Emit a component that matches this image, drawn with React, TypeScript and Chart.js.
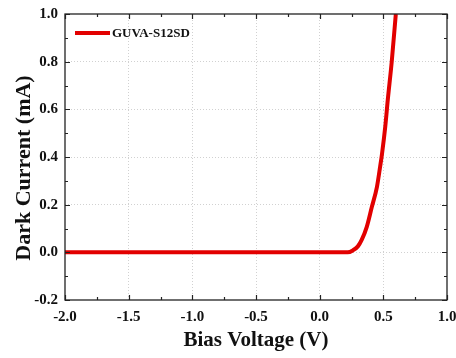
import React, { useEffect, useRef } from "react";
import { Chart, registerables } from "chart.js";

Chart.register(...registerables);

const voltage = [-2, 0.0, 0.22, 0.26, 0.30, 0.33, 0.37, 0.41, 0.45, 0.475, 0.49, 0.515, 0.535, 0.566, 0.598];
const current = [0, 0, 0, 0.008, 0.025, 0.052, 0.107, 0.191, 0.275, 0.36, 0.415, 0.527, 0.64, 0.80, 1.0];
const seriesName = "GUVA-S12SD";
const xTitle = "Bias Voltage (V)";
const yTitle = "Dark Current (mA)";
const xMin = -2, xMax = 1, xStep = 0.5;
const yMin = -0.2, yMax = 1.0, yStep = 0.2;

const FONT = "'Liberation Serif', 'Times New Roman', serif";
const RED = "rgb(226,0,0)";

const fmt = (v: any) => {
  const n = Math.round(Number(v) * 10) / 10;
  return (Math.abs(n) < 1e-9 ? 0 : n).toFixed(1);
};

const framePlugin = {
  id: "frame",
  afterDraw(chart: any) {
    const { ctx, chartArea: a, scales } = chart;
    const xs = scales.x, ys = scales.y;
    ctx.save();
    ctx.strokeStyle = "#222";
    ctx.lineWidth = 1.3;
    ctx.strokeRect(a.left, a.top, a.right - a.left, a.bottom - a.top);
    ctx.lineWidth = 1.2;
    for (let i = 0; i <= Math.round((xMax - xMin) / (xStep / 2)); i++) {
      const v = xMin + i * (xStep / 2);
      const len = i % 2 === 0 ? 5 : 3;
      const px = Math.round(xs.getPixelForValue(v)) + 0.5;
      ctx.beginPath();
      ctx.moveTo(px, a.bottom);
      ctx.lineTo(px, a.bottom - len);
      ctx.moveTo(px, a.top);
      ctx.lineTo(px, a.top + len);
      ctx.stroke();
    }
    for (let i = 0; i <= Math.round((yMax - yMin) / (yStep / 2)); i++) {
      const v = yMin + i * (yStep / 2);
      const len = i % 2 === 0 ? 5 : 3;
      const py = Math.round(ys.getPixelForValue(v)) + 0.5;
      ctx.beginPath();
      ctx.moveTo(a.left, py);
      ctx.lineTo(a.left + len, py);
      ctx.moveTo(a.right, py);
      ctx.lineTo(a.right - len, py);
      ctx.stroke();
    }
    // legend
    const ly = a.top + 19;
    ctx.strokeStyle = RED;
    ctx.lineWidth = 4;
    ctx.beginPath();
    ctx.moveTo(a.left + 10, ly);
    ctx.lineTo(a.left + 45, ly);
    ctx.stroke();
    ctx.fillStyle = "#111";
    ctx.font = `bold 13px ${FONT}`;
    ctx.textBaseline = "middle";
    ctx.textAlign = "left";
    ctx.fillText(seriesName, a.left + 47, ly + 0.5);
    ctx.restore();
  },
};

export default function App() {
  const ref = useRef<HTMLCanvasElement>(null);
  useEffect(() => {
    document.body.style.margin = "0";
    const points = voltage.map((v, i) => ({ x: v, y: current[i] }));
    const gridColor = (ctx: any) => {
      const v = ctx.tick?.value;
      const s = ctx.scale;
      if (v === undefined) return "rgba(0,0,0,0)";
      if (Math.abs(v - s.min) < 1e-6 || Math.abs(v - s.max) < 1e-6) return "rgba(0,0,0,0)";
      return "rgba(190,190,190,0.7)";
    };
    const chart = new Chart(ref.current!, {
      type: "line",
      data: {
        datasets: [
          {
            label: seriesName,
            data: points,
            borderColor: RED,
            backgroundColor: RED,
            borderWidth: 4,
            pointRadius: 0,
            cubicInterpolationMode: "monotone",
            fill: false,
          },
        ],
      },
      options: {
        animation: false,
        responsive: false,
        layout: { padding: { top: 14, right: 9, left: 0, bottom: 0 } },
        plugins: { legend: { display: false }, tooltip: { enabled: false } },
        scales: {
          x: {
            type: "linear",
            min: xMin,
            max: xMax,
            afterFit: (s: any) => { s.height = 58; s.paddingLeft = 0; s.paddingRight = 0; },
            ticks: {
              stepSize: xStep,
              padding: 8,
              color: "#111",
              font: { family: FONT, size: 15, weight: "bold" },
              callback: fmt,
              maxRotation: 0,
            },
            grid: { color: gridColor, drawTicks: false, lineWidth: 1 },
            border: { display: false, dash: [1, 2] },
            title: {
              display: true,
              text: xTitle,
              color: "#111",
              font: { family: FONT, size: 21, weight: "bold" },
              padding: { top: 0, bottom: 5 },
            },
          },
          y: {
            type: "linear",
            min: yMin,
            max: yMax,
            afterFit: (s: any) => { s.width = 65; s.paddingTop = 0; s.paddingBottom = 0; },
            ticks: {
              stepSize: yStep,
              padding: 7,
              color: "#111",
              font: { family: FONT, size: 15, weight: "bold" },
              callback: fmt,
            },
            grid: { color: gridColor, drawTicks: false, lineWidth: 1 },
            border: { display: false, dash: [1, 2] },
            title: {
              display: true,
              text: yTitle + "    ",
              color: "#111",
              font: { family: FONT, size: 22, weight: "bold" },
              padding: { top: 11, bottom: 0 },
            },
          },
        },
      },
      plugins: [framePlugin],
    } as any);
    return () => chart.destroy();
  }, []);
  return <canvas ref={ref} width={456} height={358} style={{ display: "block" }} />;
}
